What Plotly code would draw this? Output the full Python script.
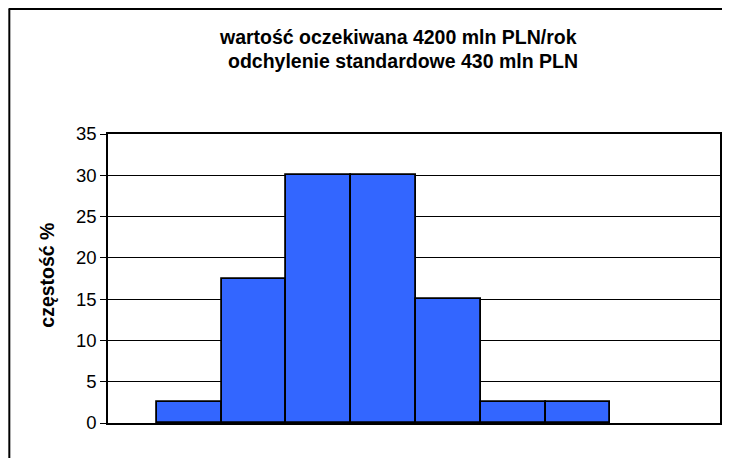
import plotly.graph_objects as go

# histogram classes (no labels shown on the x axis) and their frequencies in %
bins = [0, 1, 2, 3, 4, 5, 6]
freq = [2.5, 17.5, 30, 30, 15, 2.5, 2.5]
y_ticks = [0, 5, 10, 15, 20, 25, 30, 35]

title_1 = 'wartość oczekiwana 4200 mln PLN/rok'
title_2 = 'odchylenie standardowe 430 mln PLN'
y_title = 'częstość %'

FONT = 'Arial, Liberation Sans, sans-serif'
# page body has an 8px margin, so the figure is laid out in its own coords
W, H = 714, 450
L, R, T, B = 100, 0, 126, 35
pw, ph = W - L - R, H - T - B

def px(x):
    return (x - L) / pw

def py(y):
    return (H - B - y) / ph

fig = go.Figure()
fig.add_trace(go.Bar(x=bins, y=freq, width=1, marker_color='#3366FF',
                     marker_line_color='#000000', marker_line_width=1.8,
                     showlegend=False))

fig.update_layout(
    width=W, height=H, margin=dict(l=L, r=R, t=T, b=B),
    paper_bgcolor='white', plot_bgcolor='white',
    font=dict(family=FONT, color='black'),
    bargap=0,
    xaxis=dict(range=[-1.254, 8.192], showticklabels=False, ticks='',
               showgrid=False, zeroline=False, showline=True,
               linecolor='black', linewidth=1.5, mirror=True),
    yaxis=dict(range=[0, 35], tickvals=y_ticks, ticks='outside', ticklen=6,
               tickcolor='black', tickwidth=1, tickfont=dict(size=18.5),
               showgrid=True, gridcolor='black', gridwidth=1, zeroline=False,
               showline=True, linecolor='black', linewidth=1.5, mirror=True),
)

fig.add_annotation(x=px(390.5), y=py(29), xref='paper', yref='paper',
                   text='<b>' + title_1 + '</b>', showarrow=False,
                   font=dict(size=19.5), xanchor='center', yanchor='middle')
fig.add_annotation(x=px(396), y=py(53), xref='paper', yref='paper',
                   text='<b>' + title_2 + '</b>', showarrow=False,
                   font=dict(size=19.5), xanchor='center', yanchor='middle')
fig.add_annotation(x=px(38.5), y=py(267), xref='paper', yref='paper',
                   text='<b>' + y_title + '</b>', showarrow=False, textangle=-90,
                   font=dict(size=19.5), xanchor='center', yanchor='middle')

# outer chart-area border (left and top edges are visible)
fig.add_shape(type='line', xref='paper', yref='paper',
              x0=px(1), y0=py(H + 5), x1=px(1), y1=py(0.5),
              line=dict(color='black', width=2))
fig.add_shape(type='line', xref='paper', yref='paper',
              x0=px(0.5), y0=py(1), x1=px(W + 5), y1=py(1),
              line=dict(color='black', width=2))

fig.write_html('out.html')
